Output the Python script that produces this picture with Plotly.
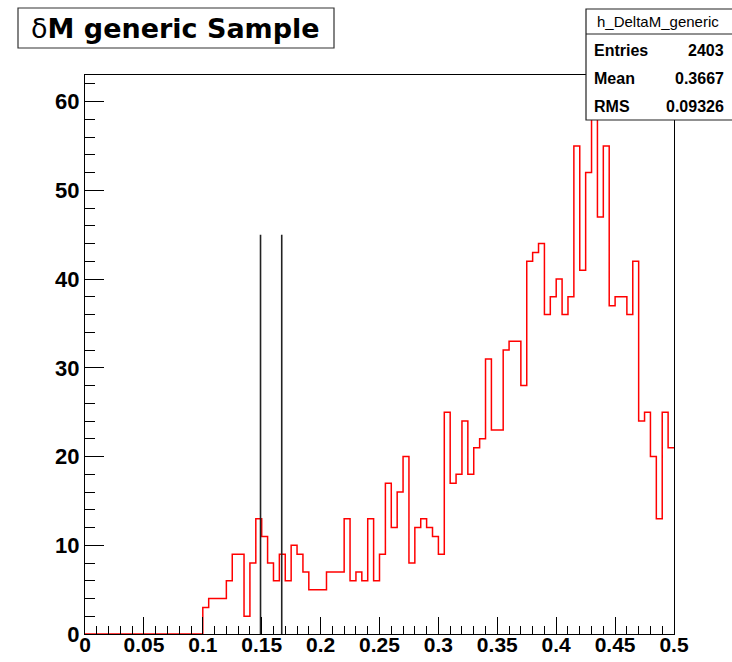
import numpy as np
import plotly.graph_objects as go

# ---- data ----
x_min, x_max, n_bins = 0.0, 0.5, 100
counts = [0] * 20 + [
    3, 4, 4, 4, 6, 9, 9, 2, 8, 13,
    11, 8, 6, 9, 6, 10, 9, 7, 5, 5,
    5, 7, 7, 7, 13, 6, 7, 6, 13, 6,
    9, 17, 12, 16, 20, 8, 12, 13, 12, 11,
    9, 25, 17, 18, 24, 18, 21, 22, 31, 23,
    23, 32, 33, 33, 28, 42, 43, 44, 36, 38,
    40, 36, 38, 55, 41, 52, 60, 47, 55, 37,
    38, 38, 36, 42, 24, 25, 20, 13, 25, 21,
]
cut_lines = [0.149, 0.167]
cut_height = 45
title_text = "δ<b>M generic Sample</b>"
stats_name = "h_DeltaM_generic"
stats_labels = ["Entries", "Mean", "RMS"]
stats_values = ["2403", "0.3667", "0.09326"]

edges = np.linspace(x_min, x_max, n_bins + 1)
y_step = list(counts) + [counts[-1]]
y_max = max(counts) * 1.05

W, H = 732, 662
L, R, T, B = 85, 58, 75, 28
pw, ph = W - L - R, H - T - B


def px(xp):
    return (xp - L) / pw


def py(yp):
    return (H - B - yp) / ph


FONT = "Liberation Sans, Arial, Helvetica, sans-serif"
TITLE_FONT = "DejaVu Sans, Liberation Sans, Arial, sans-serif"

fig = go.Figure()
fig.add_trace(go.Scatter(
    x=edges, y=y_step, mode="lines", line_shape="hv",
    line=dict(color="#ff0000", width=1.5), hoverinfo="skip", showlegend=False,
))
for c in cut_lines:
    fig.add_trace(go.Scatter(
        x=[c, c], y=[0, cut_height], mode="lines",
        line=dict(color="#222222", width=1.6), hoverinfo="skip", showlegend=False,
    ))

shapes = [
    # title box
    dict(type="rect", xref="paper", yref="paper", x0=px(18), x1=px(334),
         y0=py(48), y1=py(8), line=dict(color="#333333", width=1.2),
         fillcolor="white", layer="above"),
    # stats box
    dict(type="rect", xref="paper", yref="paper", x0=px(586), x1=px(740),
         y0=py(120), y1=py(9), line=dict(color="#222222", width=1.2),
         fillcolor="white", layer="above"),
    dict(type="line", xref="paper", yref="paper", x0=px(586), x1=px(740),
         y0=py(34), y1=py(34), line=dict(color="#222222", width=1), layer="above"),
]

annotations = [
    dict(text=title_text, xref="paper", yref="paper", x=px(175), y=py(28),
         xanchor="center", yanchor="middle", showarrow=False,
         font=dict(family=TITLE_FONT, size=27, color="black")),
    dict(text=stats_name, xref="paper", yref="paper", x=px(658), y=py(21),
         xanchor="center", yanchor="middle", showarrow=False,
         font=dict(family=FONT, size=15, color="black")),
]
row_y = [50, 78, 106]
for lab, val, ry in zip(stats_labels, stats_values, row_y):
    annotations.append(dict(text=f"<b>{lab}</b>", xref="paper", yref="paper",
                            x=px(592), y=py(ry), xanchor="left", yanchor="middle",
                            showarrow=False, font=dict(family=FONT, size=16, color="black")))
    annotations.append(dict(text=f"<b>{val}</b>", xref="paper", yref="paper",
                            x=px(726), y=py(ry), xanchor="right", yanchor="middle",
                            showarrow=False, font=dict(family=FONT, size=16, color="black")))

fig.update_layout(
    width=W, height=H,
    margin=dict(l=L, r=R, t=T, b=B, pad=0, autoexpand=False),
    paper_bgcolor="white", plot_bgcolor="white",
    shapes=shapes, annotations=annotations,
    showlegend=False,
)
fig.update_xaxes(
    range=[x_min, x_max], showgrid=False, zeroline=False, automargin=False,
    showline=True, linecolor="black", linewidth=1, mirror=True,
    layer="above traces",
    ticks="inside", ticklen=17, tickcolor="black", tickwidth=1,
    dtick=0.05, tick0=0, ticklabelstandoff=-8,
    minor=dict(ticks="inside", ticklen=8, dtick=0.01, tickcolor="black", tickwidth=1, showgrid=False),
    tickfont=dict(family=FONT, size=21, color="black", weight="bold"),
)
fig.update_yaxes(
    range=[0, y_max], showgrid=False, zeroline=False, automargin=False,
    showline=True, linecolor="black", linewidth=1, mirror=True,
    layer="above traces",
    ticks="inside", ticklen=19, tickcolor="black", tickwidth=1,
    dtick=10, tick0=0,
    minor=dict(ticks="inside", ticklen=10, dtick=2, tickcolor="black", tickwidth=1, showgrid=False),
    tickfont=dict(family=FONT, size=22, color="black", weight="bold"),
)

fig.write_html("out.html", config={"displayModeBar": False},
               post_script="document.body.style.margin='0px';")
